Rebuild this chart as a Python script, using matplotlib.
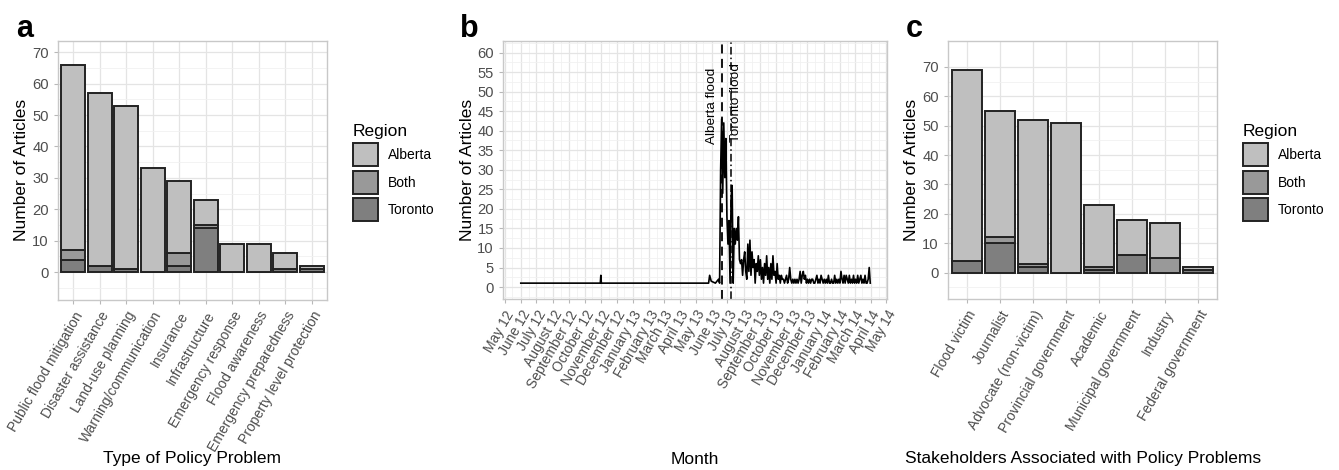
import numpy as np
import pandas as pd
import matplotlib
matplotlib.use('Agg')
from matplotlib import pyplot as plt
import matplotlib.dates as mdates
from matplotlib.patches import Patch

### data
problems = ['Public flood mitigation', 'Disaster assistance', 'Land-use planning',
            'Warning/communication', 'Insurance', 'Infrastructure', 'Emergency response',
            'Flood awareness', 'Emergency preparedness', 'Property level protection']
prob_toronto = [4, 2, 1, 0, 2, 14, 0, 0, 1, 1]
prob_both = [3, 0, 0, 0, 4, 1, 0, 0, 0, 0]
prob_alberta = [59, 55, 52, 33, 23, 8, 9, 9, 5, 1]

stakeholders = ['Flood victim', 'Journalist', 'Advocate (non-victim)', 'Provincial government',
                'Academic', 'Municipal government', 'Industry', 'Federal government']
stake_toronto = [4, 10, 2, 0, 1, 6, 0, 1]
stake_both = [0, 2, 1, 0, 1, 0, 5, 0]
stake_alberta = [65, 43, 49, 51, 21, 12, 12, 1]

# quiet period before the floods (sparse points)
quiet_dates = ['2012-06-01', '2012-10-31', '2012-11-01', '2012-11-02', '2013-05-26',
               '2013-05-28', '2013-05-31', '2013-06-08', '2013-06-14', '2013-06-16']
quiet_counts = [1, 1, 3, 1, 1, 3, 1.5, 1, 2, 1]

# active period, one value every two days from 2013-06-18
active_start = '2013-06-18'
active_counts = [30, 43, 24, 42, 28, 38, 18,
                 11, 17, 1, 23, 26, 1, 15, 11, 15, 12, 18, 7, 6, 7, 3,
                 7, 9, 4, 2, 11, 4, 12, 3, 9, 5, 7, 1, 6, 4, 8, 3,
                 7, 2, 5, 1, 6, 3, 8, 2, 5, 1, 6, 2, 8, 3, 4,
                 1, 6, 2, 3, 1, 3, 2, 2, 1, 2, 3, 1, 2, 5, 2,
                 1, 2, 1, 2, 1, 2, 1, 2, 4, 1, 3, 4, 2, 3, 1,
                 2, 1, 2, 1, 2, 2, 1, 1, 2, 3, 1, 2, 1, 3, 2, 1,
                 2, 1, 2, 1, 3, 1, 1, 2, 1, 1, 3, 1, 2, 1, 2,
                 1, 4, 2, 1, 3, 1, 3, 2, 1, 3, 1, 2, 1, 3,
                 1, 2, 1, 3, 1, 2, 3, 1, 2, 1, 3, 1, 1, 2, 5, 1]

alberta_flood = '2013-06-20'
toronto_flood = '2013-07-08'

### style
plt.rcParams['font.family'] = ['Liberation Sans', 'DejaVu Sans']
W, H = 1339, 470
colors = {'Alberta': '#bfbfbf', 'Both': '#999999', 'Toronto': '#7f7f7f'}
edge = '#222222'
tick_col = '#4d4d4d'
grid_major = '#e4e4e4'
grid_minor = '#f1f1f1'
border = '#c8c8c8'


def px_axes(fig, l, t, r, b):
    return fig.add_axes([l / W, 1 - b / H, (r - l) / W, (b - t) / H])


def style_axes(ax):
    for s in ax.spines.values():
        s.set_color(border)
        s.set_linewidth(1.0)
    ax.set_axisbelow(True)
    ax.grid(which='major', color=grid_major, linewidth=0.9)
    ax.grid(which='minor', color=grid_minor, linewidth=0.6)
    ax.tick_params(which='major', colors='#b8b8b8', length=3, width=0.8,
                   labelcolor=tick_col, labelsize=10)
    ax.tick_params(axis='y', labelsize=10.6)
    ax.tick_params(which='minor', length=0)


def stacked_bars(ax, cats, tor, both, alb, ylim, yticks):
    x = np.arange(len(cats))
    tor = np.array(tor)
    both = np.array(both)
    alb = np.array(alb)
    kw = dict(width=0.9, edgecolor=edge, linewidth=1.4)
    ax.bar(x, tor, color=colors['Toronto'], **kw)
    ax.bar(x, both, bottom=tor, color=colors['Both'], **kw)
    ax.bar(x, alb, bottom=tor + both, color=colors['Alberta'], **kw)
    ax.set_xlim(-0.58, len(cats) - 1 + 0.58)
    ax.set_ylim(*ylim)
    ax.set_yticks(yticks)
    ax.set_yticks(list(np.array(yticks[:-1]) + 5) + [-5], minor=True)
    ax.set_xticks(x)
    ax.set_xticklabels(cats, rotation=60, ha='right', va='top', rotation_mode='anchor')
    style_axes(ax)
    ax.grid(which='minor', axis='x', visible=False)


def region_legend(fig, x, y):
    handles = [Patch(facecolor=colors[k], edgecolor=edge, linewidth=1.4, label=k)
               for k in ['Alberta', 'Both', 'Toronto']]
    leg = fig.legend(handles=handles, title='Region', loc='upper left',
                     bbox_to_anchor=(x / W, 1 - y / H), frameon=False,
                     fontsize=10, title_fontsize=12.5, handlelength=1.8,
                     handleheight=2.2, labelspacing=0.3, handletextpad=0.7,
                     borderpad=0, borderaxespad=0)
    leg._legend_box.align = 'left'


fig = plt.figure(figsize=(W / 100, H / 100), dpi=100)

### panel a
ax_a = px_axes(fig, 58, 41, 327, 300)
stacked_bars(ax_a, problems, prob_toronto, prob_both, prob_alberta,
             (-8.9, 73.6), list(range(0, 71, 10)))
region_legend(fig, 353, 124)

### panel b
ax_b = px_axes(fig, 503, 41, 887, 299)
q_dates = pd.to_datetime(quiet_dates)
a_dates = pd.date_range(active_start, periods=len(active_counts), freq='2D')
series = pd.Series(list(quiet_counts) + list(active_counts),
                   index=q_dates.append(a_dates))
ax_b.plot(series.index, series.values, color='black', linewidth=1.2)
ax_b.axvline(pd.Timestamp(alberta_flood), color='black', linewidth=1.3,
             linestyle=(0, (5, 3)))
ax_b.axvline(pd.Timestamp(toronto_flood), color='black', linewidth=1.1,
             linestyle=(0, (5, 2, 1, 2)))
ax_b.text(pd.Timestamp(alberta_flood) - pd.Timedelta(days=18), 46.3, 'Alberta flood',
          rotation=90, ha='center', va='center', fontsize=9.7)
ax_b.text(pd.Timestamp(toronto_flood) + pd.Timedelta(days=10), 47.1, 'Toronto flood',
          rotation=90, ha='center', va='center', fontsize=9.7)
ax_b.set_xlim(pd.Timestamp('2012-04-28'), pd.Timestamp('2014-05-02'))
ax_b.set_ylim(-3.06, 62.96)
ax_b.set_yticks(range(0, 61, 5))
ax_b.set_yticks(np.arange(-2.5, 62.6, 5), minor=True)
ax_b.xaxis.set_major_locator(mdates.MonthLocator())
ax_b.xaxis.set_minor_locator(mdates.MonthLocator(bymonthday=16))
ax_b.xaxis.set_major_formatter(mdates.DateFormatter('%B %y'))
style_axes(ax_b)
plt.setp(ax_b.get_xticklabels(), rotation=60, ha='right', va='top', rotation_mode='anchor')

### panel c
ax_c = px_axes(fig, 948, 41, 1217, 299)
stacked_bars(ax_c, stakeholders, stake_toronto, stake_both, stake_alberta,
             (-9.0, 78.8), list(range(0, 71, 10)))
region_legend(fig, 1243, 124)

### axis titles and panel letters
for cx, title in [(192, 'Type of Policy Problem'), (695, 'Month'),
                  (1083, 'Stakeholders Associated with Policy Problems')]:
    fig.text(cx / W, 1 - 459 / H, title, ha='center', va='center', fontsize=12.5)
for lx in [22, 467, 912]:
    fig.text(lx / W, 1 - 170 / H, 'Number of Articles', rotation=90,
             ha='center', va='center', fontsize=12.5)
for lx, letter in [(16, 'a'), (460, 'b'), (906, 'c')]:
    fig.text(lx / W, 1 - 37 / H, letter, ha='left', va='baseline',
             fontsize=22, fontweight='bold')

fig.savefig('out.png', dpi=100)
